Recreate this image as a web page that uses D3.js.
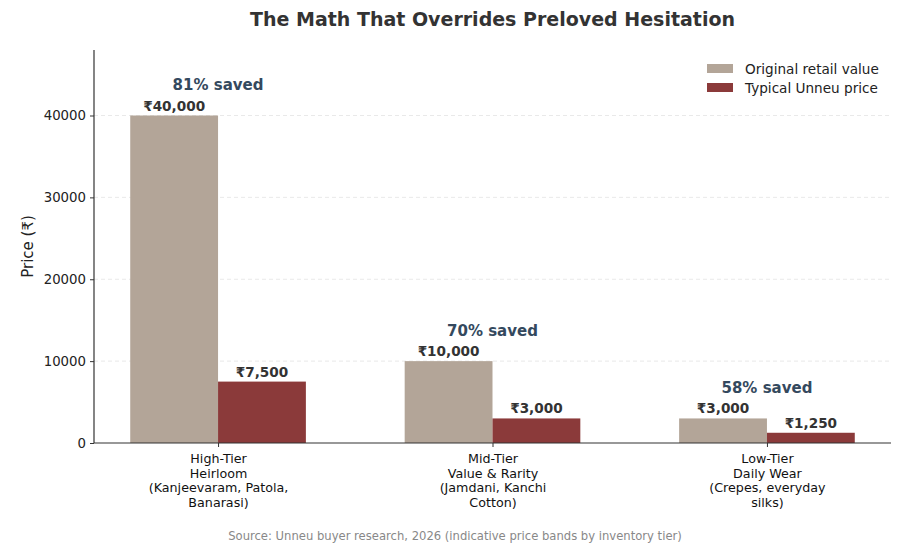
<!DOCTYPE html>
<html><head><meta charset="utf-8">
<script src="https://cdn.jsdelivr.net/npm/d3@7"></script>
<style>body{margin:0;background:#fff}svg{display:block;font-family:"DejaVu Sans",sans-serif}</style>
</head><body>
<svg id="c" width="915" height="547"></svg>
<script>
const categories = [
  ["High-Tier","Heirloom","(Kanjeevaram, Patola,","Banarasi)"],
  ["Mid-Tier","Value & Rarity","(Jamdani, Kanchi","Cotton)"],
  ["Low-Tier","Daily Wear","(Crepes, everyday","silks)"]
];
const originalValues = [40000, 10000, 3000];
const unneuValues = [7500, 3000, 1250];
const originalLabels = ["₹40,000","₹10,000","₹3,000"];
const unneuLabels = ["₹7,500","₹3,000","₹1,250"];
const savedLabels = ["81% saved","70% saved","58% saved"];
const yTicks = [0, 10000, 20000, 30000, 40000];
const seriesNames = ["Original retail value","Typical Unneu price"];
const colors = ["#b3a598","#8b3a3a"];

const svg = d3.select("#c");
const m = {l:94, r:891, t:50, b:443};
const barW = 0.32;
const x = d3.scaleLinear().domain([-0.452, 2.452]).range([m.l, m.r]);
const y = d3.scaleLinear().domain([0, 48000]).range([m.b, m.t]);

// grid
svg.append("g").selectAll("line").data(yTicks.filter(d=>d>0)).join("line")
  .attr("x1", m.l).attr("x2", m.r).attr("y1", d=>y(d)).attr("y2", d=>y(d))
  .attr("stroke","#e3e3e3").attr("stroke-width",0.8).attr("stroke-dasharray","4,3");

// bars
const series = [originalValues, unneuValues];
series.forEach((vals, s) => {
  svg.append("g").selectAll("rect").data(vals).join("rect")
    .attr("x", (d,i)=> x(i + (s===0 ? -barW : 0)))
    .attr("width", x(barW) - x(0))
    .attr("y", d=>y(d)).attr("height", d=>y(0)-y(d))
    .attr("fill", colors[s]);
});
const labels = [originalLabels, unneuLabels];
series.forEach((vals, s) => {
  svg.append("g").selectAll("text").data(vals).join("text")
    .attr("x", (d,i)=> x(i + (s===0 ? -barW/2 : barW/2)))
    .attr("y", d=>y(d) - 5)
    .attr("text-anchor","middle").attr("font-size",13.6).attr("font-weight","bold")
    .attr("fill","#333").text((d,i)=>labels[s][i]);
});
svg.append("g").selectAll("text").data(originalValues).join("text")
  .attr("x",(d,i)=>x(i)).attr("y", d=>y(d+3100))
  .attr("text-anchor","middle").attr("font-size",15).attr("font-weight","bold")
  .attr("fill","#34495e").text((d,i)=>savedLabels[i]);

// axes
const ya = svg.append("g").attr("transform",`translate(${m.l},0)`)
  .call(d3.axisLeft(y).tickValues(yTicks).tickFormat(d3.format("d")).tickSize(4).tickPadding(4));
ya.select(".domain").remove();
ya.selectAll("text").attr("font-size",13.3).attr("fill","#222").attr("font-family","DejaVu Sans");
ya.selectAll("line").attr("stroke","#333");

const xa = svg.append("g").attr("transform",`translate(0,${m.b})`)
  .call(d3.axisBottom(x).tickValues([0,1,2]).tickFormat("").tickSize(4));
xa.select(".domain").remove();
xa.selectAll("line").attr("stroke","#333");
xa.selectAll(".tick").each(function(d){
  const t = d3.select(this).append("text").attr("fill","#111").attr("font-size",12.7)
    .attr("text-anchor","middle").attr("font-family","DejaVu Sans");
  categories[d].forEach((ln,k)=>{
    t.append("tspan").attr("x",0).attr("y",20 + k*14.5).text(ln);
  });
});

svg.append("line").attr("x1",m.l).attr("x2",m.l).attr("y1",m.t).attr("y2",m.b).attr("stroke","#333").attr("stroke-width",1.2);
svg.append("line").attr("x1",m.l).attr("x2",m.r).attr("y1",m.b).attr("y2",m.b).attr("stroke","#333").attr("stroke-width",1.2);

// title
svg.append("text").attr("x",(m.l+m.r)/2).attr("y",26).attr("text-anchor","middle")
  .attr("font-size",19).attr("font-weight","bold").attr("fill","#333")
  .text("The Math That Overrides Preloved Hesitation");

// y label
svg.append("text").attr("transform",`translate(33,${(m.t+m.b)/2}) rotate(-90)`)
  .attr("text-anchor","middle").attr("font-size",15).attr("fill","#222").text("Price (₹)");

// legend
const lg = svg.append("g").attr("transform","translate(707,64)");
seriesNames.forEach((n,i)=>{
  lg.append("rect").attr("x",0).attr("y",i*19).attr("width",26).attr("height",9).attr("fill",colors[i]);
  lg.append("text").attr("x",38).attr("y",i*19+9.5).attr("font-size",13.6).attr("fill","#222").text(n);
});

// source
svg.append("text").attr("x",455).attr("y",540).attr("text-anchor","middle")
  .attr("font-size",11.6).attr("fill","#888")
  .text("Source: Unneu buyer research, 2026 (indicative price bands by inventory tier)");
</script>
</body></html>
